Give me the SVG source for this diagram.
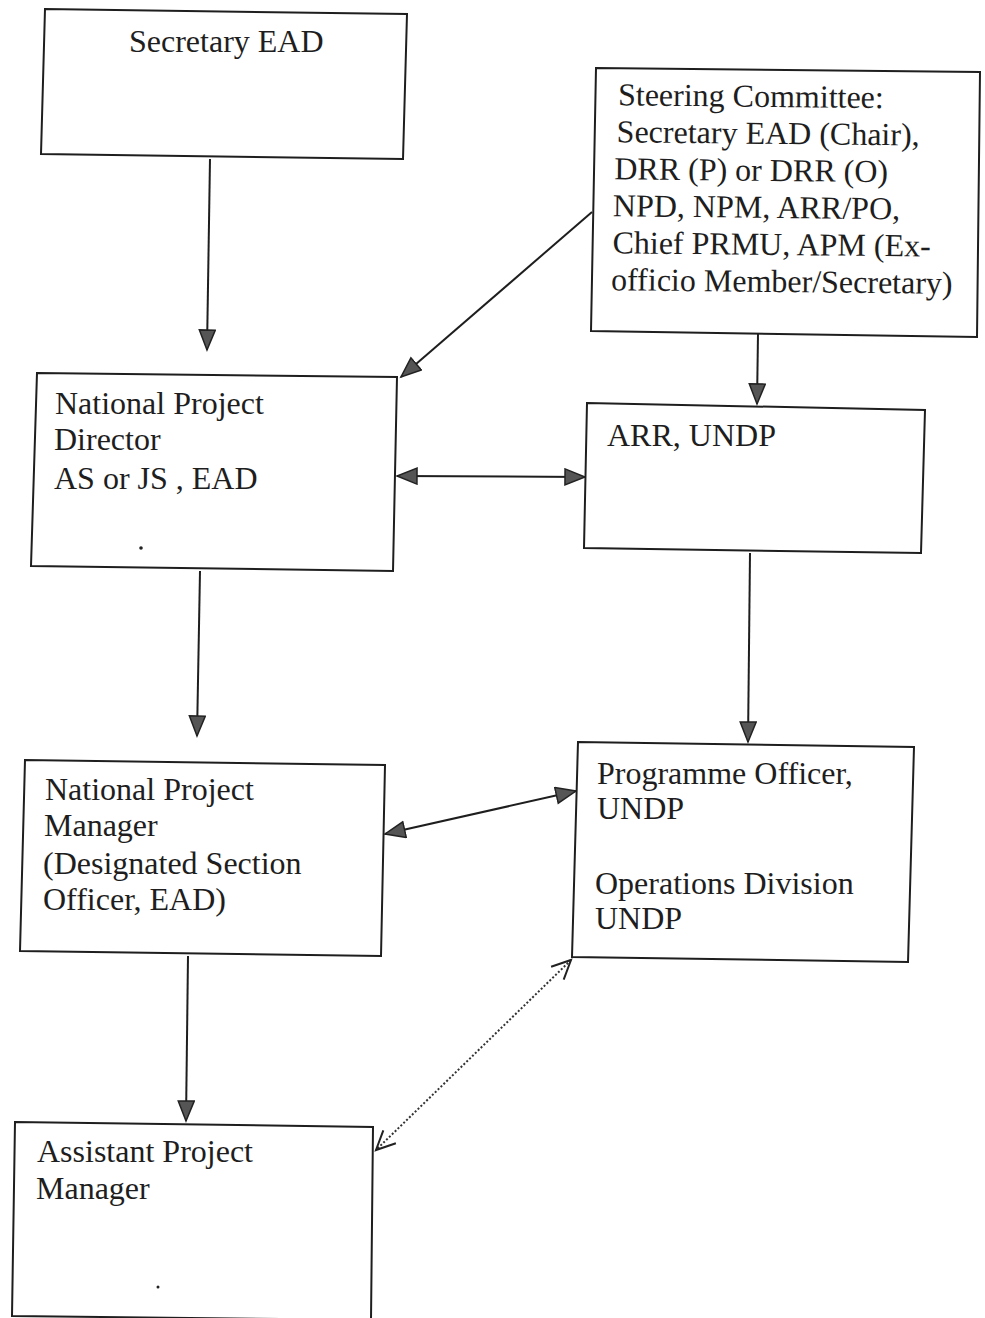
<svg xmlns="http://www.w3.org/2000/svg" width="985" height="1318" viewBox="0 0 985 1318">
<style>
.box{fill:#fff;stroke:#1e1e1e;stroke-width:2}
.t{font-family:"Liberation Serif","Times New Roman",serif;font-size:32px;fill:#1e1e1e}
.c{stroke:#1e1e1e;stroke-width:2;fill:none}
.d{stroke:#333;stroke-width:2;fill:none;stroke-dasharray:2 2}
</style>
<defs>
<marker id="ah" markerUnits="userSpaceOnUse" markerWidth="24" markerHeight="20" refX="21" refY="9" orient="auto-start-reverse">
<path d="M1,1 L21,9 L1,17 z" fill="#555" stroke="#222" stroke-width="1.5"/>
</marker>
<marker id="oh" markerUnits="userSpaceOnUse" markerWidth="24" markerHeight="24" refX="21" refY="12" orient="auto-start-reverse">
<path d="M2,3 L21,12 L2,21" fill="none" stroke="#222" stroke-width="2"/>
</marker>
</defs>
<rect width="985" height="1318" fill="#fff"/>
<g id="connectors">
<line class="c" x1="210" y1="159" x2="207" y2="350" marker-end="url(#ah)"/>
<line class="c" x1="592" y1="212" x2="401" y2="377" marker-end="url(#ah)"/>
<line class="c" x1="758" y1="334" x2="757" y2="404" marker-end="url(#ah)"/>
<line class="c" x1="397" y1="476" x2="585" y2="477" marker-start="url(#ah)" marker-end="url(#ah)"/>
<line class="c" x1="200" y1="571" x2="197" y2="736" marker-end="url(#ah)"/>
<line class="c" x1="750" y1="553" x2="748" y2="742" marker-end="url(#ah)"/>
<line class="c" x1="385" y1="834" x2="576" y2="791" marker-start="url(#ah)" marker-end="url(#ah)"/>
<line class="c" x1="188" y1="956" x2="186" y2="1121" marker-end="url(#ah)"/>
<line class="d" x1="571" y1="960" x2="376" y2="1150" marker-start="url(#oh)" marker-end="url(#oh)"/>
</g>
<g id="secretary">
<polygon class="box" points="45,9 407,14 403,159 41,154"/>
<text class="t" x="129" y="52">Secretary EAD</text>
</g>
<g id="steering">
<polygon class="box" points="596,68 980,72 977,337 591,331"/>
<text class="t" transform="rotate(0.6 780 200)">
<tspan x="617" y="107">Steering Committee:</tspan>
<tspan x="616" y="144">Secretary EAD (Chair),</tspan>
<tspan x="614" y="181">DRR (P) or DRR (O)</tspan>
<tspan x="613" y="218">NPD, NPM, ARR/PO,</tspan>
<tspan x="613" y="255">Chief PRMU, APM (Ex-</tspan>
<tspan x="612" y="292">officio Member/Secretary)</tspan>
</text>
</g>
<g id="npd">
<polygon class="box" points="37,373 397,377 393,571 31,566"/>
<text class="t">
<tspan x="55" y="414">National Project</tspan>
<tspan x="54" y="450">Director</tspan>
<tspan x="54" y="489">AS or JS , EAD</tspan>
</text>
<circle cx="141" cy="548" r="1.8" fill="#222"/>
</g>
<g id="arr">
<polygon class="box" points="587,403 925,410 921,553 584,548"/>
<text class="t" x="607" y="446">ARR, UNDP</text>
</g>
<g id="npm">
<polygon class="box" points="25,760 385,765 381,956 20,951"/>
<text class="t">
<tspan x="45" y="800">National Project</tspan>
<tspan x="44" y="836">Manager</tspan>
<tspan x="43" y="874">(Designated Section</tspan>
<tspan x="43" y="910">Officer, EAD)</tspan>
</text>
</g>
<g id="po">
<polygon class="box" points="578,742 914,747 908,962 572,957"/>
<text class="t">
<tspan x="597" y="784">Programme Officer,</tspan>
<tspan x="597" y="819">UNDP</tspan>
<tspan x="595" y="894">Operations Division</tspan>
<tspan x="595" y="929">UNDP</tspan>
</text>
</g>
<g id="apm">
<polygon class="box" points="15,1122 373,1127 371,1320 12,1316"/>
<text class="t">
<tspan x="37" y="1162">Assistant Project</tspan>
<tspan x="36" y="1199">Manager</tspan>
</text>
<circle cx="158" cy="1287" r="1.5" fill="#222"/>
</g>
</svg>
